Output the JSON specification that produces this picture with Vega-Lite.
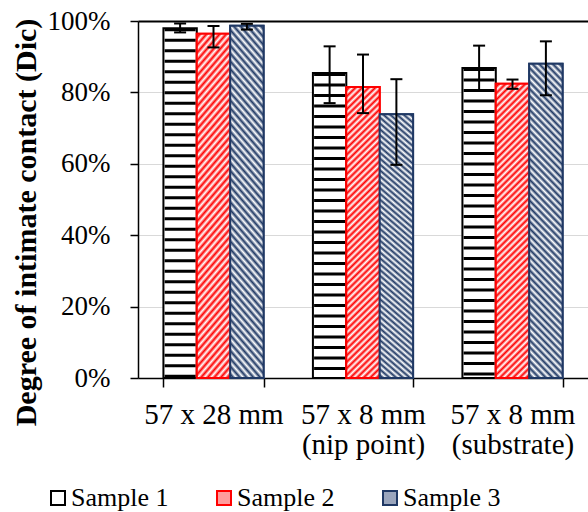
{
  "$schema": "https://vega.github.io/schema/vega-lite/v6.json",
  "autosize": {"type": "none"},
  "padding": {"left": 138, "top": 21, "right": 0, "bottom": 134},
  "width": 450,
  "height": 357,
  "background": "white",
  "config": {
    "font": "Liberation Serif",
    "view": {"stroke": null},
    "axis": {"labelColor": "black", "titleColor": "black", "domainColor": "black", "tickColor": "black", "labelFont": "Liberation Serif", "titleFont": "Liberation Serif"},
    "legend": {"labelFont": "Liberation Serif"}
  },
  "data": {
    "values": [
      {"size": "57 x 28 mm", "sample": "Sample 1", "value": 0.980, "lo": 0.968, "hi": 0.993},
      {"size": "57 x 28 mm", "sample": "Sample 2", "value": 0.964, "lo": 0.926, "hi": 0.986},
      {"size": "57 x 28 mm", "sample": "Sample 3", "value": 0.987, "lo": 0.976, "hi": 0.992},
      {"size": "57 x 8 mm|(nip point)", "sample": "Sample 1", "value": 0.854, "lo": 0.770, "hi": 0.929},
      {"size": "57 x 8 mm|(nip point)", "sample": "Sample 2", "value": 0.815, "lo": 0.742, "hi": 0.906},
      {"size": "57 x 8 mm|(nip point)", "sample": "Sample 3", "value": 0.739, "lo": 0.597, "hi": 0.837},
      {"size": "57 x 8 mm|(substrate)", "sample": "Sample 1", "value": 0.868, "lo": 0.805, "hi": 0.931},
      {"size": "57 x 8 mm|(substrate)", "sample": "Sample 2", "value": 0.824, "lo": 0.810, "hi": 0.836},
      {"size": "57 x 8 mm|(substrate)", "sample": "Sample 3", "value": 0.880, "lo": 0.792, "hi": 0.943}
    ]
  },
  "encoding": {
    "x": {
      "field": "size", "type": "nominal", "sort": null,
      "scale": {"paddingInner": 0.33, "paddingOuter": 0.17},
      "axis": {
        "title": null, "labelExpr": "split(datum.label, '|')", "labelAngle": 0,
        "labelFontSize": 29, "labelLineHeight": 30, "labelPadding": 13, "labelBaseline": "top",
        "tickBand": "extent", "tickSize": 9, "tickWidth": 1.5, "domainWidth": 1.5,
        "encode": {"ticks": {"update": {"y": {"value": -8}}}}
      }
    },
    "xOffset": {"field": "sample", "type": "nominal", "sort": null, "scale": {"paddingInner": 0, "paddingOuter": 0}}
  },
  "layer": [
    {
      "mark": {"type": "bar", "strokeWidth": 2},
      "encoding": {
        "y": {
          "field": "value", "type": "quantitative",
          "scale": {"domain": [0, 1], "nice": false},
          "axis": {
            "title": "Degree of intimate contact (Dic)",
            "values": [0, 0.2, 0.4, 0.6, 0.8, 1], "format": ".0%",
            "labelFontSize": 27, "labelPadding": 20,
            "tickSize": 8, "tickWidth": 1.5, "domainWidth": 1.5,
            "grid": true,
            "gridColor": {"condition": {"test": "datum.value === 1", "value": "black"}, "value": "#d9d9d9"},
            "gridWidth": {"condition": {"test": "datum.value === 1", "value": 2}, "value": 1.2},
            "titleFontSize": 30, "titleFontWeight": "bold", "titleX": -103, "titleY": 201,
            "titleAngle": -90, "titleBaseline": "alphabetic", "titleAlign": "center",
            "encode": {"ticks": {"update": {"x": {"value": 9}}}}
          }
        },
        "fill": {
          "field": "sample", "type": "nominal", "sort": null,
          "scale": {"range": ["#ffffff", "#ff9c9c", "#9aa5bc"]},
          "legend": {"title": null, "orient": "none", "legendX": -93, "legendY": 464, "direction": "horizontal", "symbolType": "square", "symbolSize": 196, "symbolStrokeWidth": 2, "labelFontSize": 26, "labelFont": "Liberation Serif", "labelColor": "black", "labelOffset": 0, "columnPadding": 42}
        },
        "stroke": {
          "field": "sample", "type": "nominal", "sort": null,
          "scale": {"range": ["#000000", "#ff0000", "#1f3864"]},
          "legend": {"title": null, "orient": "none", "legendX": -93, "legendY": 464, "direction": "horizontal", "symbolType": "square", "symbolSize": 196, "symbolStrokeWidth": 2, "labelFontSize": 26, "labelFont": "Liberation Serif", "labelColor": "black", "labelOffset": 0, "columnPadding": 42}
        }
      }
    },
    {
      "transform": [{"filter": "datum.sample === 'Sample 1'"}],
      "mark": {"type": "rule", "color": "black", "strokeWidth": 31, "strokeDash": [3, 7.5]},
      "encoding": {
        "y": {"field": "value", "type": "quantitative", "axis": null},
        "y2": {"datum": 0}
      }
    },
    {
      "transform": [{"filter": "datum.sample === 'Sample 2'"}],
      "mark": {
        "type": "bar", "stroke": "#ff0000", "strokeWidth": 2,
        "fill": {"gradient": "linear", "x1": 0, "y1": 0, "x2": 0.124, "y2": 1.099, "stops": [
          {"offset": 0, "color": "#fff"}, {"offset": 0.01, "color": "#f00"}, {"offset": 0.02, "color": "#fff"}, {"offset": 0.03, "color": "#f00"}, {"offset": 0.04, "color": "#fff"}, {"offset": 0.05, "color": "#f00"}, {"offset": 0.06, "color": "#fff"}, {"offset": 0.07, "color": "#f00"}, {"offset": 0.08, "color": "#fff"}, {"offset": 0.09, "color": "#f00"},
          {"offset": 0.10, "color": "#fff"}, {"offset": 0.11, "color": "#f00"}, {"offset": 0.12, "color": "#fff"}, {"offset": 0.13, "color": "#f00"}, {"offset": 0.14, "color": "#fff"}, {"offset": 0.15, "color": "#f00"}, {"offset": 0.16, "color": "#fff"}, {"offset": 0.17, "color": "#f00"}, {"offset": 0.18, "color": "#fff"}, {"offset": 0.19, "color": "#f00"},
          {"offset": 0.20, "color": "#fff"}, {"offset": 0.21, "color": "#f00"}, {"offset": 0.22, "color": "#fff"}, {"offset": 0.23, "color": "#f00"}, {"offset": 0.24, "color": "#fff"}, {"offset": 0.25, "color": "#f00"}, {"offset": 0.26, "color": "#fff"}, {"offset": 0.27, "color": "#f00"}, {"offset": 0.28, "color": "#fff"}, {"offset": 0.29, "color": "#f00"},
          {"offset": 0.30, "color": "#fff"}, {"offset": 0.31, "color": "#f00"}, {"offset": 0.32, "color": "#fff"}, {"offset": 0.33, "color": "#f00"}, {"offset": 0.34, "color": "#fff"}, {"offset": 0.35, "color": "#f00"}, {"offset": 0.36, "color": "#fff"}, {"offset": 0.37, "color": "#f00"}, {"offset": 0.38, "color": "#fff"}, {"offset": 0.39, "color": "#f00"},
          {"offset": 0.40, "color": "#fff"}, {"offset": 0.41, "color": "#f00"}, {"offset": 0.42, "color": "#fff"}, {"offset": 0.43, "color": "#f00"}, {"offset": 0.44, "color": "#fff"}, {"offset": 0.45, "color": "#f00"}, {"offset": 0.46, "color": "#fff"}, {"offset": 0.47, "color": "#f00"}, {"offset": 0.48, "color": "#fff"}, {"offset": 0.49, "color": "#f00"},
          {"offset": 0.50, "color": "#fff"}, {"offset": 0.51, "color": "#f00"}, {"offset": 0.52, "color": "#fff"}, {"offset": 0.53, "color": "#f00"}, {"offset": 0.54, "color": "#fff"}, {"offset": 0.55, "color": "#f00"}, {"offset": 0.56, "color": "#fff"}, {"offset": 0.57, "color": "#f00"}, {"offset": 0.58, "color": "#fff"}, {"offset": 0.59, "color": "#f00"},
          {"offset": 0.60, "color": "#fff"}, {"offset": 0.61, "color": "#f00"}, {"offset": 0.62, "color": "#fff"}, {"offset": 0.63, "color": "#f00"}, {"offset": 0.64, "color": "#fff"}, {"offset": 0.65, "color": "#f00"}, {"offset": 0.66, "color": "#fff"}, {"offset": 0.67, "color": "#f00"}, {"offset": 0.68, "color": "#fff"}, {"offset": 0.69, "color": "#f00"},
          {"offset": 0.70, "color": "#fff"}, {"offset": 0.71, "color": "#f00"}, {"offset": 0.72, "color": "#fff"}, {"offset": 0.73, "color": "#f00"}, {"offset": 0.74, "color": "#fff"}, {"offset": 0.75, "color": "#f00"}, {"offset": 0.76, "color": "#fff"}, {"offset": 0.77, "color": "#f00"}, {"offset": 0.78, "color": "#fff"}, {"offset": 0.79, "color": "#f00"},
          {"offset": 0.80, "color": "#fff"}, {"offset": 0.81, "color": "#f00"}, {"offset": 0.82, "color": "#fff"}, {"offset": 0.83, "color": "#f00"}, {"offset": 0.84, "color": "#fff"}, {"offset": 0.85, "color": "#f00"}, {"offset": 0.86, "color": "#fff"}, {"offset": 0.87, "color": "#f00"}, {"offset": 0.88, "color": "#fff"}, {"offset": 0.89, "color": "#f00"},
          {"offset": 0.90, "color": "#fff"}, {"offset": 0.91, "color": "#f00"}, {"offset": 0.92, "color": "#fff"}, {"offset": 0.93, "color": "#f00"}, {"offset": 0.94, "color": "#fff"}, {"offset": 0.95, "color": "#f00"}, {"offset": 0.96, "color": "#fff"}, {"offset": 0.97, "color": "#f00"}, {"offset": 0.98, "color": "#fff"}, {"offset": 0.99, "color": "#f00"},
          {"offset": 1, "color": "#fff"}
        ]}
      },
      "encoding": {"y": {"field": "value", "type": "quantitative", "axis": null}}
    },
    {
      "transform": [{"filter": "datum.sample === 'Sample 3'"}],
      "mark": {
        "type": "bar", "stroke": "#1f3864", "strokeWidth": 2,
        "fill": {"gradient": "linear", "x1": 0, "y1": 1, "x2": 0.120, "y2": -0.097, "stops": [
          {"offset": 0, "color": "#fff"}, {"offset": 0.01, "color": "#1f3864"}, {"offset": 0.02, "color": "#fff"}, {"offset": 0.03, "color": "#1f3864"}, {"offset": 0.04, "color": "#fff"}, {"offset": 0.05, "color": "#1f3864"}, {"offset": 0.06, "color": "#fff"}, {"offset": 0.07, "color": "#1f3864"}, {"offset": 0.08, "color": "#fff"}, {"offset": 0.09, "color": "#1f3864"},
          {"offset": 0.10, "color": "#fff"}, {"offset": 0.11, "color": "#1f3864"}, {"offset": 0.12, "color": "#fff"}, {"offset": 0.13, "color": "#1f3864"}, {"offset": 0.14, "color": "#fff"}, {"offset": 0.15, "color": "#1f3864"}, {"offset": 0.16, "color": "#fff"}, {"offset": 0.17, "color": "#1f3864"}, {"offset": 0.18, "color": "#fff"}, {"offset": 0.19, "color": "#1f3864"},
          {"offset": 0.20, "color": "#fff"}, {"offset": 0.21, "color": "#1f3864"}, {"offset": 0.22, "color": "#fff"}, {"offset": 0.23, "color": "#1f3864"}, {"offset": 0.24, "color": "#fff"}, {"offset": 0.25, "color": "#1f3864"}, {"offset": 0.26, "color": "#fff"}, {"offset": 0.27, "color": "#1f3864"}, {"offset": 0.28, "color": "#fff"}, {"offset": 0.29, "color": "#1f3864"},
          {"offset": 0.30, "color": "#fff"}, {"offset": 0.31, "color": "#1f3864"}, {"offset": 0.32, "color": "#fff"}, {"offset": 0.33, "color": "#1f3864"}, {"offset": 0.34, "color": "#fff"}, {"offset": 0.35, "color": "#1f3864"}, {"offset": 0.36, "color": "#fff"}, {"offset": 0.37, "color": "#1f3864"}, {"offset": 0.38, "color": "#fff"}, {"offset": 0.39, "color": "#1f3864"},
          {"offset": 0.40, "color": "#fff"}, {"offset": 0.41, "color": "#1f3864"}, {"offset": 0.42, "color": "#fff"}, {"offset": 0.43, "color": "#1f3864"}, {"offset": 0.44, "color": "#fff"}, {"offset": 0.45, "color": "#1f3864"}, {"offset": 0.46, "color": "#fff"}, {"offset": 0.47, "color": "#1f3864"}, {"offset": 0.48, "color": "#fff"}, {"offset": 0.49, "color": "#1f3864"},
          {"offset": 0.50, "color": "#fff"}, {"offset": 0.51, "color": "#1f3864"}, {"offset": 0.52, "color": "#fff"}, {"offset": 0.53, "color": "#1f3864"}, {"offset": 0.54, "color": "#fff"}, {"offset": 0.55, "color": "#1f3864"}, {"offset": 0.56, "color": "#fff"}, {"offset": 0.57, "color": "#1f3864"}, {"offset": 0.58, "color": "#fff"}, {"offset": 0.59, "color": "#1f3864"},
          {"offset": 0.60, "color": "#fff"}, {"offset": 0.61, "color": "#1f3864"}, {"offset": 0.62, "color": "#fff"}, {"offset": 0.63, "color": "#1f3864"}, {"offset": 0.64, "color": "#fff"}, {"offset": 0.65, "color": "#1f3864"}, {"offset": 0.66, "color": "#fff"}, {"offset": 0.67, "color": "#1f3864"}, {"offset": 0.68, "color": "#fff"}, {"offset": 0.69, "color": "#1f3864"},
          {"offset": 0.70, "color": "#fff"}, {"offset": 0.71, "color": "#1f3864"}, {"offset": 0.72, "color": "#fff"}, {"offset": 0.73, "color": "#1f3864"}, {"offset": 0.74, "color": "#fff"}, {"offset": 0.75, "color": "#1f3864"}, {"offset": 0.76, "color": "#fff"}, {"offset": 0.77, "color": "#1f3864"}, {"offset": 0.78, "color": "#fff"}, {"offset": 0.79, "color": "#1f3864"},
          {"offset": 0.80, "color": "#fff"}, {"offset": 0.81, "color": "#1f3864"}, {"offset": 0.82, "color": "#fff"}, {"offset": 0.83, "color": "#1f3864"}, {"offset": 0.84, "color": "#fff"}, {"offset": 0.85, "color": "#1f3864"}, {"offset": 0.86, "color": "#fff"}, {"offset": 0.87, "color": "#1f3864"}, {"offset": 0.88, "color": "#fff"}, {"offset": 0.89, "color": "#1f3864"},
          {"offset": 0.90, "color": "#fff"}, {"offset": 0.91, "color": "#1f3864"}, {"offset": 0.92, "color": "#fff"}, {"offset": 0.93, "color": "#1f3864"}, {"offset": 0.94, "color": "#fff"}, {"offset": 0.95, "color": "#1f3864"}, {"offset": 0.96, "color": "#fff"}, {"offset": 0.97, "color": "#1f3864"}, {"offset": 0.98, "color": "#fff"}, {"offset": 0.99, "color": "#1f3864"},
          {"offset": 1, "color": "#fff"}
        ]}
      },
      "encoding": {"y": {"field": "value", "type": "quantitative", "axis": null}}
    },
    {
      "mark": {"type": "rule", "color": "black", "strokeWidth": 2},
      "encoding": {
        "y": {
          "field": "lo", "type": "quantitative",
          "axis": {"values": [0.04, 0.08, 0.12, 0.16, 0.24, 0.28, 0.32, 0.36, 0.44, 0.48, 0.52, 0.56, 0.64, 0.68, 0.72, 0.76, 0.84, 0.88, 0.92, 0.96], "labels": false, "domain": false, "grid": false, "title": null, "tickSize": 7, "tickWidth": 1.5, "encode": {"ticks": {"update": {"x": {"value": -450}, "x2": {"value": -443}}}}}
        },
        "y2": {"field": "hi"}
      }
    },
    {
      "mark": {"type": "tick", "color": "black", "thickness": 2, "size": 12, "opacity": 1},
      "encoding": {"y": {"field": "lo", "type": "quantitative", "axis": null}}
    },
    {
      "mark": {"type": "tick", "color": "black", "thickness": 2, "size": 12, "opacity": 1},
      "encoding": {"y": {"field": "hi", "type": "quantitative", "axis": null}}
    }
  ],
  "resolve": {"axis": {"y": "independent"}}
}
